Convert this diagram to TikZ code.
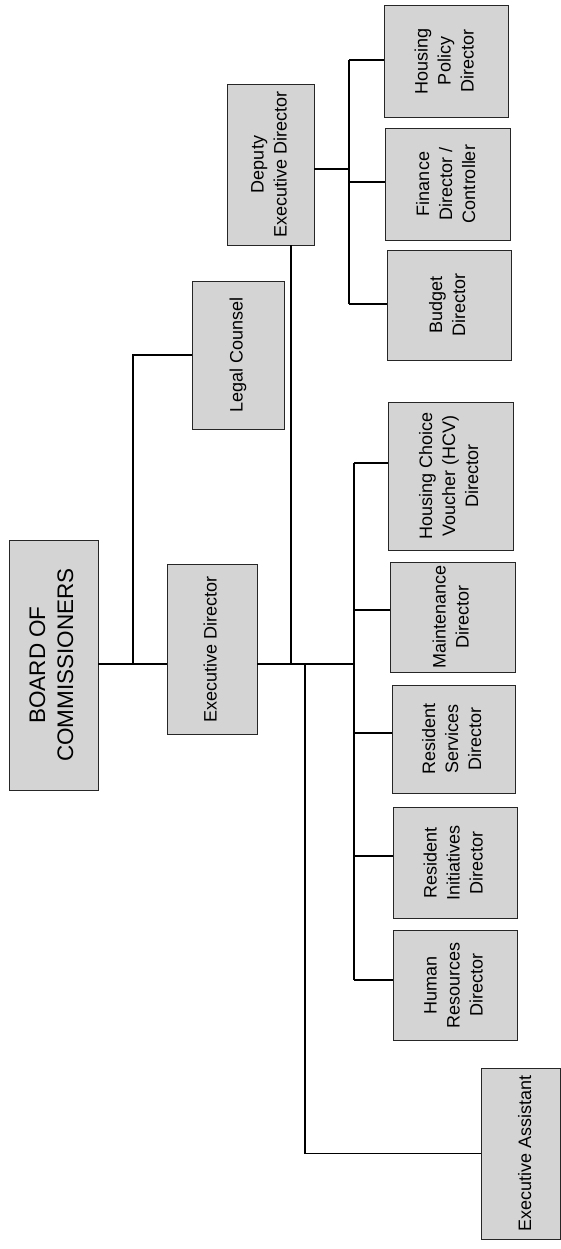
\documentclass[tikz,border=0pt]{standalone}
\usepackage{fontspec}
\setmainfont{Liberation Sans}
\usepackage{graphicx}
\newcommand\orgrot[1]{\rotatebox{90}{\begin{tabular}{@{}c@{}}#1\end{tabular}}}
\tikzset{
  orgbox/.style={draw=black!85, line width=0.9pt, fill=black!17, inner sep=0pt,
    anchor=center, font=\fontsize{18}{23}\selectfont},
  bigbox/.style={orgbox, font=\fontsize{22.5}{28}\selectfont},
  link/.style={line width=1.3pt, draw=black},
}
\begin{document}
\begin{tikzpicture}[x=1pt, y=-1pt]
\useasboundingbox (0,0) rectangle (561,1249);
% boxes
\node[bigbox, minimum width=89pt, minimum height=250pt] (board) at (53.5,665) {\orgrot{BOARD OF\\COMMISSIONERS}};
\node[orgbox, minimum width=90pt, minimum height=170pt] (ed) at (212,649) {\orgrot{Executive Director}};
\node[orgbox, minimum width=92pt, minimum height=148pt] (legal) at (238,355) {\orgrot{Legal Counsel}};
\node[orgbox, minimum width=87pt, minimum height=161pt] (deputy) at (270.5,164.5) {\orgrot{Deputy\\Executive Director}};
\node[orgbox, minimum width=79pt, minimum height=171pt] (ea) at (520.5,1153.5) {\hspace*{12pt}\orgrot{Executive Assistant}};
\node[orgbox, minimum width=124pt, minimum height=112pt] (hpd) at (446,61) {\orgrot{Housing\\Policy\\Director}};
\node[orgbox, minimum width=125pt, minimum height=112pt] (fin) at (447.5,184) {\orgrot{Finance\\Director /\\Controller}};
\node[orgbox, minimum width=124pt, minimum height=110pt] (bud) at (449,305) {\orgrot{Budget\\Director}};
\node[orgbox, minimum width=125pt, minimum height=148pt] (hcv) at (450.5,476) {\orgrot{Housing Choice\\Voucher (HCV)\\Director}};
\node[orgbox, minimum width=125pt, minimum height=110pt] (mnt) at (452.5,617) {\orgrot{Maintenance\\Director}};
\node[orgbox, minimum width=123pt, minimum height=108pt] (rs) at (453.5,739) {\orgrot{Resident\\Services\\Director}};
\node[orgbox, minimum width=124pt, minimum height=111pt] (ri) at (455,862.5) {\orgrot{Resident\\Initiatives\\Director}};
\node[orgbox, minimum width=124pt, minimum height=110pt] (hr) at (455,985) {\orgrot{Human\\Resources\\Director}};
% junctions
\coordinate (j1) at (133,664);
\coordinate (j2) at (291,664);
\coordinate (j3) at (305,664);
\coordinate (bj) at (354,664);
\coordinate (b1) at (354,463);
\coordinate (b2) at (354,610);
\coordinate (b3) at (354,733);
\coordinate (b4) at (354,856);
\coordinate (b5) at (354,980);
\coordinate (dj) at (349,169);
\coordinate (d1) at (349,60);
\coordinate (d2) at (349,182);
\coordinate (d3) at (349,304);
% connectors
\draw[link] (board.east |- j1) -- (j1) -- (ed.west |- j1);
\draw[link] (j1) |- (legal.west);
\draw[link] (ed.east |- j2) -- (bj);
\draw[link] (j2) -- (j2 |- deputy.south);
\draw[link] (j3) |- (ea.west);
\draw[link] (b1) -- (b5);
\draw[link] (b1) -- (b1 -| hcv.west);
\draw[link] (b2) -- (b2 -| mnt.west);
\draw[link] (b3) -- (b3 -| rs.west);
\draw[link] (b4) -- (b4 -| ri.west);
\draw[link] (b5) -- (b5 -| hr.west);
\draw[link] (deputy.east |- dj) -- (dj);
\draw[link] (d1) -- (d3);
\draw[link] (d1) -- (d1 -| hpd.west);
\draw[link] (d2) -- (d2 -| fin.west);
\draw[link] (d3) -- (d3 -| bud.west);
\end{tikzpicture}
\end{document}
